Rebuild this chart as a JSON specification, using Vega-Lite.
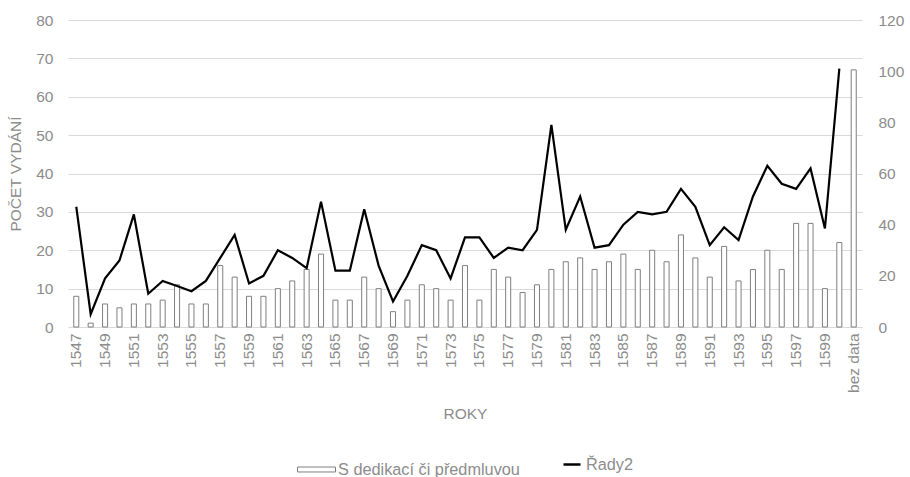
{
  "$schema": "https://vega.github.io/schema/vega-lite/v6.json",
  "width": 794,
  "height": 307,
  "autosize": {"type": "none"},
  "padding": {"left": 68, "top": 20, "right": 48, "bottom": 150},
  "background": "white",
  "config": {
    "view": {"stroke": null},
    "font": "Liberation Sans",
    "axis": {"labelFont": "Liberation Sans", "titleFont": "Liberation Sans", "labelColor": "#8c8c8c", "titleColor": "#8c8c8c", "labelFontSize": 15.5, "titleFontSize": 15.5, "titleFontWeight": "normal", "labelOverlap": false},
    "legend": {"labelFont": "Liberation Sans", "labelColor": "#8c8c8c", "labelFontSize": 16.3, "labelLimit": 400, "layout": {"bottom": {"anchor": "middle", "direction": "horizontal", "center": true, "margin": 42}}}
  },
  "data": {"values": [
    {"rok": "1547", "dedikace": 8, "rady": 47},
    {"rok": "1548", "dedikace": 1, "rady": 5},
    {"rok": "1549", "dedikace": 6, "rady": 19},
    {"rok": "1550", "dedikace": 5, "rady": 26},
    {"rok": "1551", "dedikace": 6, "rady": 44},
    {"rok": "1552", "dedikace": 6, "rady": 13},
    {"rok": "1553", "dedikace": 7, "rady": 18},
    {"rok": "1554", "dedikace": 11, "rady": 16},
    {"rok": "1555", "dedikace": 6, "rady": 14},
    {"rok": "1556", "dedikace": 6, "rady": 18},
    {"rok": "1557", "dedikace": 16, "rady": 27},
    {"rok": "1558", "dedikace": 13, "rady": 36},
    {"rok": "1559", "dedikace": 8, "rady": 17},
    {"rok": "1560", "dedikace": 8, "rady": 20},
    {"rok": "1561", "dedikace": 10, "rady": 30},
    {"rok": "1562", "dedikace": 12, "rady": 27},
    {"rok": "1563", "dedikace": 15, "rady": 23},
    {"rok": "1564", "dedikace": 19, "rady": 49},
    {"rok": "1565", "dedikace": 7, "rady": 22},
    {"rok": "1566", "dedikace": 7, "rady": 22},
    {"rok": "1567", "dedikace": 13, "rady": 46},
    {"rok": "1568", "dedikace": 10, "rady": 24},
    {"rok": "1569", "dedikace": 4, "rady": 10},
    {"rok": "1570", "dedikace": 7, "rady": 20},
    {"rok": "1571", "dedikace": 11, "rady": 32},
    {"rok": "1572", "dedikace": 10, "rady": 30},
    {"rok": "1573", "dedikace": 7, "rady": 19},
    {"rok": "1574", "dedikace": 16, "rady": 35},
    {"rok": "1575", "dedikace": 7, "rady": 35},
    {"rok": "1576", "dedikace": 15, "rady": 27},
    {"rok": "1577", "dedikace": 13, "rady": 31},
    {"rok": "1578", "dedikace": 9, "rady": 30},
    {"rok": "1579", "dedikace": 11, "rady": 38},
    {"rok": "1580", "dedikace": 15, "rady": 79},
    {"rok": "1581", "dedikace": 17, "rady": 38},
    {"rok": "1582", "dedikace": 18, "rady": 51},
    {"rok": "1583", "dedikace": 15, "rady": 31},
    {"rok": "1584", "dedikace": 17, "rady": 32},
    {"rok": "1585", "dedikace": 19, "rady": 40},
    {"rok": "1586", "dedikace": 15, "rady": 45},
    {"rok": "1587", "dedikace": 20, "rady": 44},
    {"rok": "1588", "dedikace": 17, "rady": 45},
    {"rok": "1589", "dedikace": 24, "rady": 54},
    {"rok": "1590", "dedikace": 18, "rady": 47},
    {"rok": "1591", "dedikace": 13, "rady": 32},
    {"rok": "1592", "dedikace": 21, "rady": 39},
    {"rok": "1593", "dedikace": 12, "rady": 34},
    {"rok": "1594", "dedikace": 15, "rady": 51},
    {"rok": "1595", "dedikace": 20, "rady": 63},
    {"rok": "1596", "dedikace": 15, "rady": 56},
    {"rok": "1597", "dedikace": 27, "rady": 54},
    {"rok": "1598", "dedikace": 27, "rady": 62},
    {"rok": "1599", "dedikace": 10, "rady": 38.5},
    {"rok": "1600", "dedikace": 22, "rady": 101},
    {"rok": "bez data", "dedikace": 67, "rady": null}
  ]},
  "encoding": {
    "x": {
      "field": "rok", "type": "nominal", "sort": null,
      "scale": {"paddingInner": 0.65, "paddingOuter": 0.4},
      "axis": {
        "title": "ROKY", "labelAngle": -90, "labelPadding": 6, "titlePadding": 14,
        "domain": false, "ticks": false, "grid": false,
        "labelExpr": "datum.value == 'bez data' || (toNumber(datum.value) - 1547) % 2 == 0 ? datum.value : ''"
      }
    }
  },
  "layer": [
    {
      "mark": {"type": "bar", "stroke": "#7f7f7f", "strokeWidth": 1},
      "encoding": {
        "y": {
          "field": "dedikace", "type": "quantitative",
          "scale": {"domain": [0, 80]},
          "axis": {"title": "POČET VYDÁNÍ", "values": [0,10,20,30,40,50,60,70,80], "domain": false, "ticks": false, "labelPadding": 15, "titlePadding": 12, "gridColor": "#d9d9d9", "gridWidth": 1}
        },
        "fill": {
          "datum": "S dedikací či předmluvou",
          "scale": {"range": ["white"]},
          "legend": {"title": null, "orient": "bottom", "symbolType": "M-1,-0.13H1V0.13H-1Z", "symbolSize": 1444, "symbolStrokeColor": "#7f7f7f", "symbolStrokeWidth": 1, "labelOffset": 2, "offset": 28}
        }
      }
    },
    {
      "mark": {"type": "line", "strokeWidth": 2.2, "stroke": "black"},
      "encoding": {
        "y": {
          "field": "rady", "type": "quantitative",
          "scale": {"domain": [0, 120]},
          "axis": {"title": null, "orient": "right", "values": [0,20,40,60,80,100,120], "domain": false, "ticks": false, "grid": false, "labelPadding": 16}
        },
        "stroke": {
          "datum": "Řady2",
          "scale": {"range": ["black"]},
          "legend": {"title": null, "orient": "bottom", "symbolType": "stroke", "symbolSize": 289, "symbolStrokeWidth": 2.5, "labelOffset": 4, "offset": 28}
        }
      }
    }
  ],
  "resolve": {"scale": {"y": "independent"}}
}
